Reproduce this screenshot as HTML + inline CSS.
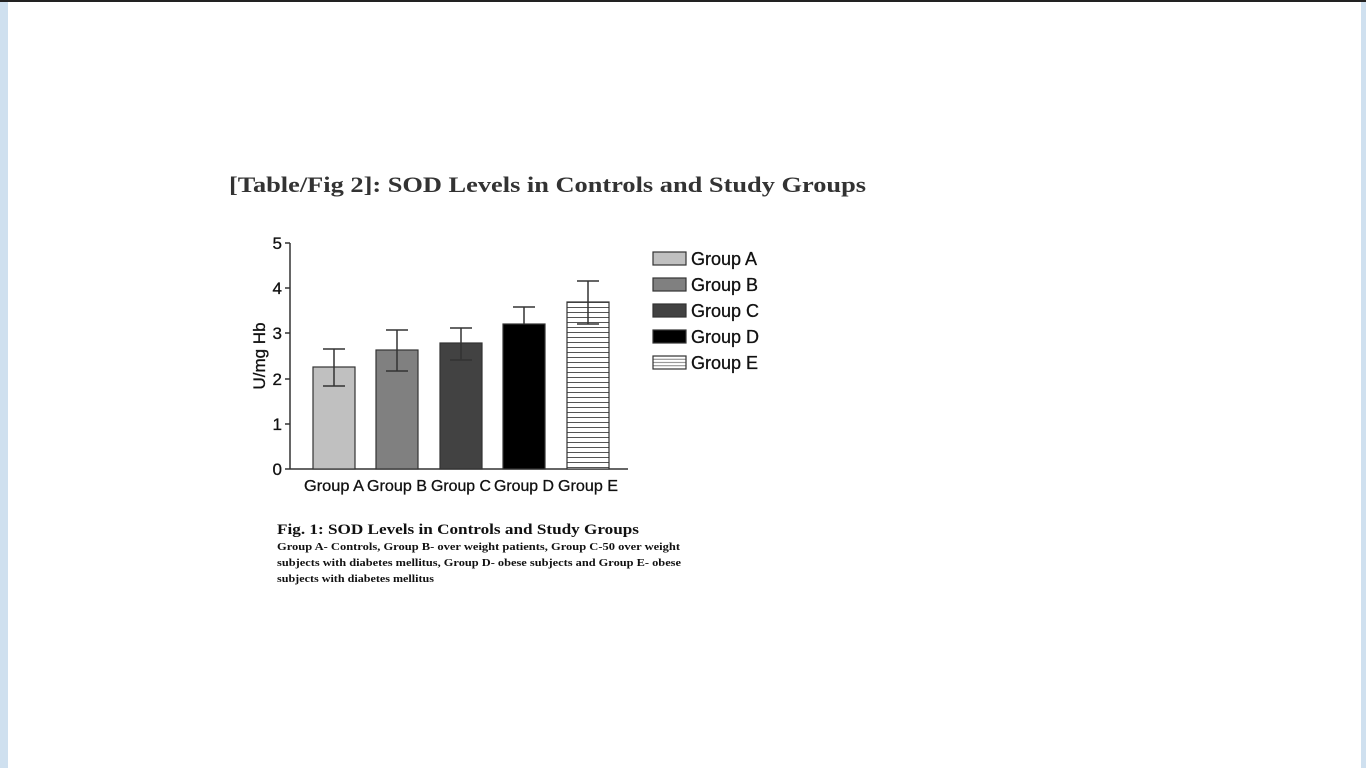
<!DOCTYPE html>
<html><head><meta charset="utf-8"><style>
html,body{margin:0;padding:0;width:1366px;height:768px;overflow:hidden;background:#cfe0ef;}
</style></head><body>
<svg width="1366" height="768" xmlns="http://www.w3.org/2000/svg" style="position:absolute;left:0;top:0">
<defs>
<pattern id="hs" width="6" height="5" patternUnits="userSpaceOnUse">
<rect width="6" height="5" fill="#fff"/><line x1="0" y1="2.5" x2="6" y2="2.5" stroke="#555" stroke-width="1"/>
</pattern>
<pattern id="hs2" width="6" height="3.3" patternUnits="userSpaceOnUse" y="252">
<rect width="6" height="3.3" fill="#fff"/><line x1="0" y1="1.6" x2="6" y2="1.6" stroke="#666" stroke-width="0.8"/>
</pattern>
</defs>
<rect x="0" y="0" width="1366" height="2" fill="#222"/>
<rect x="8" y="2" width="1353" height="766" fill="#fff"/>
<text x="229" y="192" font-family="Liberation Serif" font-weight="bold" font-size="22" fill="#333" textLength="637" lengthAdjust="spacingAndGlyphs">[Table/Fig 2]: SOD Levels in Controls and Study Groups</text>
<g font-family="Liberation Sans" fill="#111" stroke="#111" stroke-width="0.3">
<g stroke="#333" stroke-width="1.5">
<line x1="290" y1="243" x2="290" y2="469"/>
<line x1="290" y1="469" x2="628" y2="469"/>
<line x1="285" y1="243" x2="290" y2="243"/>
<line x1="285" y1="288" x2="290" y2="288"/>
<line x1="285" y1="333" x2="290" y2="333"/>
<line x1="285" y1="379" x2="290" y2="379"/>
<line x1="285" y1="424" x2="290" y2="424"/>
<line x1="285" y1="469" x2="290" y2="469"/>
</g>
<g font-size="17" text-anchor="end">
<text x="282" y="249">5</text><text x="282" y="294">4</text><text x="282" y="339">3</text>
<text x="282" y="385">2</text><text x="282" y="430">1</text><text x="282" y="475">0</text>
</g>
<text transform="translate(265,356) rotate(-90)" font-size="17" text-anchor="middle">U/mg Hb</text>
<g stroke="#333" stroke-width="1.2">
<rect x="313" y="367" width="42" height="102" fill="#c0c0c0"/>
<rect x="376" y="350" width="42" height="119" fill="#808080"/>
<rect x="440" y="343" width="42" height="126" fill="#424242"/>
<rect x="503" y="324" width="42" height="145" fill="#000"/>
<rect x="567" y="302" width="42" height="167" fill="url(#hs)"/>
</g>
<g stroke="#333" stroke-width="1.5" fill="none">
<path d="M334 349V386M323 349H345M323 386H345"/>
<path d="M397 330V371M386 330H408M386 371H408"/>
<path d="M461 328V360M450 328H472M450 360H472"/>
<path d="M524 307V324M513 307H535"/>
<path d="M588 281V324M577 281H599M577 324H599"/>
</g>
<g font-size="16" text-anchor="middle">
<text x="334" y="491" textLength="60" lengthAdjust="spacingAndGlyphs">Group A</text>
<text x="397" y="491" textLength="60" lengthAdjust="spacingAndGlyphs">Group B</text>
<text x="461" y="491" textLength="60" lengthAdjust="spacingAndGlyphs">Group C</text>
<text x="524" y="491" textLength="60" lengthAdjust="spacingAndGlyphs">Group D</text>
<text x="588" y="491" textLength="60" lengthAdjust="spacingAndGlyphs">Group E</text>
</g>
<g stroke="#333" stroke-width="1.2">
<rect x="653" y="252" width="33" height="13" fill="#c0c0c0"/>
<rect x="653" y="278" width="33" height="13" fill="#808080"/>
<rect x="653" y="304" width="33" height="13" fill="#424242"/>
<rect x="653" y="330" width="33" height="13" fill="#000"/>
<rect x="653" y="356" width="33" height="13" fill="url(#hs2)"/>
</g>
<g font-size="18">
<text x="691" y="265">Group A</text><text x="691" y="291">Group B</text><text x="691" y="317">Group C</text>
<text x="691" y="343">Group D</text><text x="691" y="369">Group E</text>
</g>
</g>
<g font-family="Liberation Serif" font-weight="bold" fill="#111">
<text x="277" y="534" font-size="15" textLength="362" lengthAdjust="spacingAndGlyphs">Fig. 1: SOD Levels in Controls and Study Groups</text>
<text x="277" y="550" font-size="11" textLength="403" lengthAdjust="spacingAndGlyphs">Group A- Controls, Group B- over weight patients, Group C-50 over weight</text>
<text x="277" y="566" font-size="11" textLength="404" lengthAdjust="spacingAndGlyphs">subjects with diabetes mellitus,  Group D- obese subjects and Group E- obese</text>
<text x="277" y="582" font-size="11" textLength="157" lengthAdjust="spacingAndGlyphs">subjects with diabetes mellitus</text>
</g>
</svg>
</body></html>
